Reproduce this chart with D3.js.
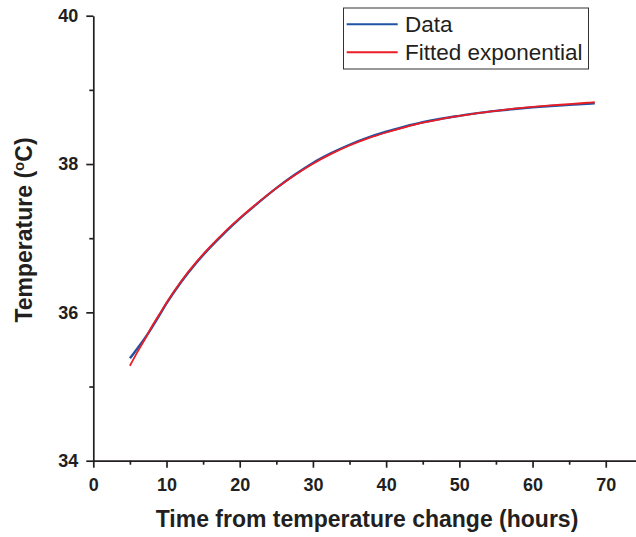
<!DOCTYPE html>
<html>
<head>
<meta charset="utf-8">
<script src="https://cdn.jsdelivr.net/npm/d3@7"></script>
<style>
  html, body { margin: 0; padding: 0; background: #ffffff; }
  svg { display: block; }
</style>
</head>
<body>
<svg id="chart" width="636" height="537"></svg>
<script>
// Time since the temperature step (hours)
const hours = [5, 6, 7, 8, 9, 10, 12, 14, 16, 18, 20, 22.5, 25, 27.5, 30, 32.5, 35, 37.5,
               40, 42.5, 45, 47.5, 50, 52.5, 55, 57.5, 60, 62.5, 65, 67.5, 68.5];

// Measured temperature (°C)
const measured = [35.38, 35.51, 35.645, 35.795, 35.955, 36.12, 36.41, 36.66, 36.88, 37.08,
                  37.265, 37.475, 37.675, 37.855, 38.015, 38.147, 38.26, 38.355, 38.435,
                  38.503, 38.563, 38.611, 38.65, 38.686, 38.716, 38.742, 38.764, 38.782,
                  38.797, 38.812, 38.818];

// Exponential fit to the measured temperature (°C)
const fitted = [35.28, 35.46, 35.63, 35.81, 35.97, 36.13, 36.42, 36.67, 36.89, 37.09,
                37.27, 37.48, 37.675, 37.85, 38.005, 38.137, 38.25, 38.345, 38.425,
                38.495, 38.557, 38.607, 38.648, 38.686, 38.718, 38.746, 38.77, 38.79,
                38.807, 38.826, 38.833];

const xTicks = [0, 10, 20, 30, 40, 50, 60, 70];
const xMinorTicks = [5, 15, 25, 35, 45, 55, 65];
const yTicks = [34, 36, 38, 40];
const yMinorTicks = [35, 37, 39];
const seriesNames = ["Data", "Fitted exponential"];
const xTitle = "Time from temperature change (hours)";

const ink = "#231f20";
const colors = ["#2152a3", "#ec1c24"];

const svg = d3.select("#chart");

const x = d3.scaleLinear().domain([0, 74.2]).range([93.3, 636.5]);
const y = d3.scaleLinear().domain([34, 40]).range([460.7, 15.7]);

const fontFamily = "'Liberation Sans', Arial, Helvetica, sans-serif";

// Axes
function styleAxis(g) {
  g.select(".domain").attr("stroke", ink).attr("stroke-width", 1.7);
  g.selectAll(".tick line").attr("stroke", ink).attr("stroke-width", 1.7);
  g.selectAll(".tick text")
    .attr("fill", ink)
    .style("font-family", fontFamily)
    .style("font-weight", "bold")
    .style("font-size", "18px");
}

const xAxis = svg.append("g")
  .attr("transform", `translate(0,${y(34)})`)
  .call(d3.axisBottom(x).tickValues(xTicks).tickSize(7).tickSizeOuter(0)
        .tickPadding(10.5).tickFormat(d3.format("d")));
styleAxis(xAxis);

const xMinor = svg.append("g")
  .attr("transform", `translate(0,${y(34)})`)
  .call(d3.axisBottom(x).tickValues(xMinorTicks).tickSize(4).tickSizeOuter(0).tickFormat(""));
xMinor.select(".domain").remove();
xMinor.selectAll(".tick line").attr("stroke", ink).attr("stroke-width", 1.7);

const yAxis = svg.append("g")
  .attr("transform", `translate(${x(0)},0)`)
  .call(d3.axisLeft(y).tickValues(yTicks).tickSize(7).tickSizeOuter(0)
        .tickPadding(8).tickFormat(d3.format("d")));
styleAxis(yAxis);

const yMinor = svg.append("g")
  .attr("transform", `translate(${x(0)},0)`)
  .call(d3.axisLeft(y).tickValues(yMinorTicks).tickSize(4).tickSizeOuter(0).tickFormat(""));
yMinor.select(".domain").remove();
yMinor.selectAll(".tick line").attr("stroke", ink).attr("stroke-width", 1.7);

// Axis titles
svg.append("text")
  .attr("x", 367)
  .attr("y", 526.7)
  .attr("text-anchor", "middle")
  .attr("fill", ink)
  .style("font-family", fontFamily)
  .style("font-weight", "bold")
  .style("font-size", "23px")
  .text(xTitle);

const yTitle = svg.append("text")
  .attr("transform", "translate(31.5,230) rotate(-90)")
  .attr("text-anchor", "middle")
  .attr("fill", ink)
  .style("font-family", fontFamily)
  .style("font-weight", "bold")
  .style("font-size", "23px");
yTitle.append("tspan").text("Temperature (");
yTitle.append("tspan").attr("baseline-shift", "super").style("font-size", "15px").text("o");
yTitle.append("tspan").text("C)");

// Curves
const line = d3.line()
  .x((d, i) => x(hours[i]))
  .y(d => y(d))
  .curve(d3.curveMonotoneX);

svg.append("path")
  .datum(measured)
  .attr("fill", "none")
  .attr("stroke", colors[0])
  .attr("stroke-width", 2.4)
  .attr("d", line);

svg.append("path")
  .datum(fitted)
  .attr("fill", "none")
  .attr("stroke", colors[1])
  .attr("stroke-width", 1.8)
  .attr("d", line);

// Legend
const legend = svg.append("g");
legend.append("rect")
  .attr("x", 343.5).attr("y", 8)
  .attr("width", 245).attr("height", 61)
  .attr("fill", "#ffffff")
  .attr("stroke", "#333333")
  .attr("stroke-width", 1);

const legendRows = [24.3, 52.3];
seriesNames.forEach((name, i) => {
  legend.append("line")
    .attr("x1", 346.7).attr("x2", 397.7)
    .attr("y1", legendRows[i]).attr("y2", legendRows[i])
    .attr("stroke", colors[i])
    .attr("stroke-width", 2);
  legend.append("text")
    .attr("x", 405)
    .attr("y", legendRows[i] + 7.8)
    .attr("fill", ink)
    .style("font-family", fontFamily)
    .style("font-size", "22.5px")
    .text(name);
});
</script>
</body>
</html>
